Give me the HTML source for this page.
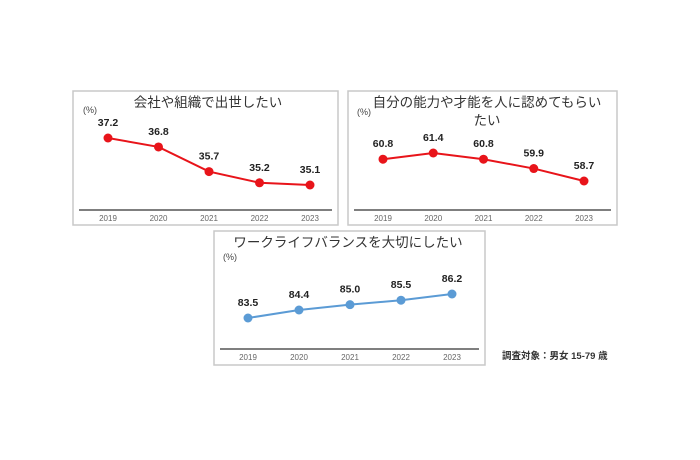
<!DOCTYPE html>
<html><head><meta charset="utf-8"><style>
body{margin:0;background:#fff;width:700px;height:460px;overflow:hidden;font-family:"Liberation Sans","Noto Sans CJK JP",sans-serif}
svg{position:absolute;left:0;top:0}
</style></head><body>
<svg id="c" width="700" height="460"></svg>
<script>
const years=["2019","2020","2021","2022","2023"];
const valsCompany=[37.2,36.8,35.7,35.2,35.1];
const valsRecognition=[60.8,61.4,60.8,59.9,58.7];
const valsBalance=[83.5,84.4,85.0,85.5,86.2];
const labelsCompany=["37.2","36.8","35.7","35.2","35.1"];
const labelsRecognition=["60.8","61.4","60.8","59.9","58.7"];
const labelsBalance=["83.5","84.4","85.0","85.5","86.2"];
const NS="http://www.w3.org/2000/svg";
const svg=document.getElementById('c');
function mk(t,a,p){const e=document.createElementNS(NS,t);for(const k in a)e.setAttribute(k,a[k]);(p||svg).appendChild(e);return e;}
function panel(o){
  const g=mk('g',{});
  
  
  const r=mk('rect',{x:o.x0,y:o.y0,width:o.x1-o.x0,height:o.y1-o.y0,fill:'#fff',stroke:'#c8c8c8','stroke-width':1.5},g);
  
  o.title.forEach((t,i)=>{const tx=mk('text',{x:o.tx,y:o.ty+i*18,'text-anchor':'middle','font-size':13.5,fill:'#333'},g);tx.textContent=t;
    });
  const u=mk('text',{x:o.ux,y:o.uy,'font-size':9,fill:'#444'},g);u.textContent='(%)';
  
  const ax=mk('line',{x1:o.x0+6,x2:o.x1-6,y1:o.axisY,y2:o.axisY,stroke:'#555','stroke-width':1.5},g);
  
  const xs=i=>o.px0+i*(o.px1-o.px0)/(years.length-1);
  const ys=v=>o.py0+(v-o.v0)*(o.py1-o.py0)/(o.v1-o.v0);
  years.forEach((y,i)=>{const t=mk('text',{x:xs(i),y:o.axisY+11,'text-anchor':'middle','font-size':8,fill:'#666'},g);t.textContent=y;
    });
  const pl=mk('polyline',{points:o.vals.map((v,i)=>xs(i)+','+ys(v)).join(' '),fill:'none',stroke:o.color,'stroke-width':2},g);
  
  o.vals.forEach((v,i)=>{const c=mk('circle',{cx:xs(i),cy:ys(v),r:4.5,fill:o.color},g);
    
    const t=mk('text',{x:xs(i),y:ys(v)-12,'text-anchor':'middle','font-size':10.5,'font-weight':'bold',fill:'#222'},g);t.textContent=o.labels[i];
    });
}
panel({name:'company-career-chart',x0:73,y0:91,x1:338,y1:225,title:['会社や組織で出世したい'],tx:208,ty:107,ux:83,uy:113,axisY:210,
  px0:108,px1:310,v0:37.2,v1:35.1,py0:138,py1:185,vals:valsCompany,labels:labelsCompany,color:'#e8141a'});
panel({name:'recognition-chart',x0:348,y0:91,x1:617,y1:225,title:['自分の能力や才能を人に認めてもらい','たい'],tx:487,ty:107,ux:357,uy:115,axisY:210,
  px0:383,px1:584,v0:61.4,v1:58.7,py0:153,py1:181,vals:valsRecognition,labels:labelsRecognition,color:'#e8141a'});
panel({name:'work-life-balance-chart',x0:214,y0:231,x1:485,y1:365,title:['ワークライフバランスを大切にしたい'],tx:348,ty:247,ux:223,uy:260,axisY:349,
  px0:248,px1:452,v0:83.5,v1:86.2,py0:318,py1:294,vals:valsBalance,labels:labelsBalance,color:'#5b9bd5'});
const fn=mk('text',{x:502,y:359,'font-size':9.5,'font-weight':'bold',fill:'#333'});fn.textContent='調査対象：男女 15-79 歳';

</script>
</body></html>
